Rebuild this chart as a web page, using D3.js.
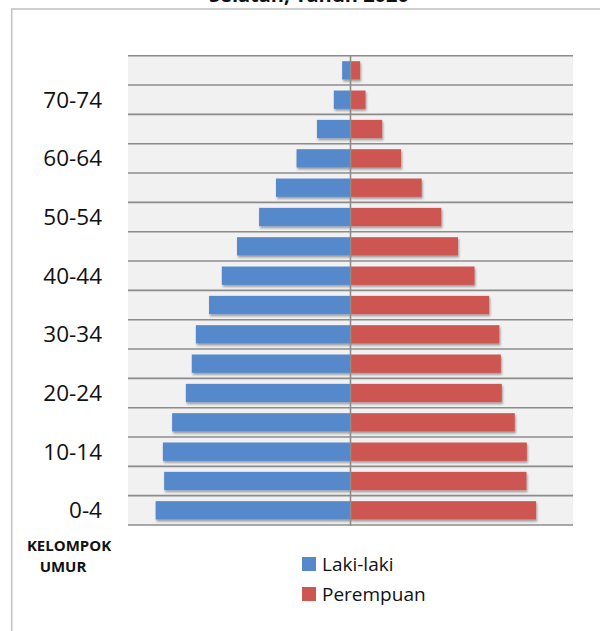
<!DOCTYPE html>
<html lang="en">
<head>
<meta charset="UTF-8" />
<title>Piramida Penduduk</title>
<script src="https://cdnjs.cloudflare.com/ajax/libs/d3/7.8.5/d3.min.js"></script>
<style>
  body { margin: 0; background: #fff; font-family: 'Open Sans', sans-serif; }
  svg { display: block; }
  .tick text { font-size: 22.5px; fill: #111; }
  text.title { font-size: 20px; font-weight: 700; fill: #111; }
  text.ylab { font-size: 15px; font-weight: 700; fill: #111; }
  text.legend { font-size: 19px; fill: #111; }
</style>
</head>
<body>
<svg width="600" height="631"></svg>
<script>
// age groups, bottom to top
const ageGroups = ['0-4','5-9','10-14','15-19','20-24','25-29','30-34','35-39',
                   '40-44','45-49','50-54','55-59','60-64','65-69','70-74','75+'];
const tickLabels = ['0-4','10-14','20-24','30-34','40-44','50-54','60-64','70-74'];
const seriesNames = ['Laki-laki', 'Perempuan'];
// population (same order as ageGroups)
const lakiLaki  = [10510,10050,10120,9620,8880,8560,8340,7630,6940,6120,4930,4020,2910,1810,900,450];
const perempuan = [10010,9490,9510,8860,8160,8110,8030,7480,6690,5800,4900,3840,2730,1710,810,520];
const maxPop = 12000;

const colors = { 'Laki-laki': '#5589cb', 'Perempuan': '#cd5653' };

const svg = d3.select('svg');

// outer frame (runs off the right / bottom of the picture)
svg.append('rect')
  .attr('x', 11.7).attr('y', 9)
  .attr('width', 700).attr('height', 700)
  .attr('fill', 'none')
  .attr('stroke', '#c4c4c4')
  .attr('stroke-width', 1.6);

// title, only the bottom of its second line is inside the picture
svg.append('text')
  .attr('class', 'title')
  .attr('x', 309).attr('y', 1.5)
  .attr('text-anchor', 'middle')
  .text('Selatan, Tahun 2020');

const plotLeft = 128, plotRight = 573, plotTop = 55.7, plotBottom = 525;

const x = d3.scaleLinear().domain([-maxPop, maxPop]).range([plotLeft, plotRight]);
const yRow = d3.scaleBand().domain(ageGroups.slice().reverse()).range([plotTop, plotBottom]);
const yBar = d3.scaleBand().domain(ageGroups.slice().reverse()).range([plotTop, plotBottom])
  .paddingInner(0.375).paddingOuter(0.1875);

const defs = svg.append('defs');
const f = defs.append('filter').attr('id', 'shadow')
  .attr('x', '-10%').attr('y', '-30%').attr('width', '120%').attr('height', '170%');
f.append('feDropShadow')
  .attr('dx', 1).attr('dy', 2).attr('stdDeviation', 1.2)
  .attr('flood-color', '#000').attr('flood-opacity', 0.35);

// plot background
svg.append('rect')
  .attr('x', x(-maxPop)).attr('y', plotTop)
  .attr('width', x(maxPop) - x(-maxPop)).attr('height', plotBottom - plotTop)
  .attr('fill', '#f1f1f1');

// horizontal gridlines at row boundaries
const bounds = ageGroups.map(a => yRow(a)).concat([plotBottom]);
svg.append('g').selectAll('line')
  .data(bounds)
  .enter().append('line')
  .attr('x1', x(-maxPop)).attr('x2', x(maxPop))
  .attr('y1', d => d).attr('y2', d => d)
  .attr('stroke', '#8c8c8c')
  .attr('stroke-width', 1.6);

// bars
const rows = ageGroups.map((a, i) => ({ age: a, laki: lakiLaki[i], perempuan: perempuan[i] }));
const bars = svg.append('g').attr('filter', 'url(#shadow)');
bars.selectAll('rect.laki')
  .data(rows)
  .enter().append('rect')
  .attr('class', 'laki')
  .attr('x', d => x(-d.laki))
  .attr('y', d => yBar(d.age))
  .attr('width', d => x(0) - x(-d.laki))
  .attr('height', yBar.bandwidth())
  .attr('fill', colors['Laki-laki']);
bars.selectAll('rect.per')
  .data(rows)
  .enter().append('rect')
  .attr('class', 'per')
  .attr('x', x(0))
  .attr('y', d => yBar(d.age))
  .attr('width', d => x(d.perempuan) - x(0))
  .attr('height', yBar.bandwidth())
  .attr('fill', colors['Perempuan']);

// centre line
svg.append('line')
  .attr('x1', x(0)).attr('x2', x(0))
  .attr('y1', plotTop).attr('y2', plotBottom + 1)
  .attr('stroke', '#8c8c8c')
  .attr('stroke-width', 1.6);

// y axis labels
const yAxis = svg.append('g')
  .attr('transform', `translate(${plotLeft}, 0)`)
  .call(d3.axisLeft(yRow).tickValues(tickLabels).tickSize(0).tickPadding(26));
yAxis.select('.domain').remove();
yAxis.attr('font-family', null).attr('font-size', null);
yAxis.selectAll('.tick text').attr('dy', '0.36em');

// axis title
const ylab = svg.append('text').attr('class', 'ylab').attr('text-anchor', 'middle');
ylab.append('tspan').attr('x', 69).attr('y', 551).text('KELOMPOK');
ylab.append('tspan').attr('x', 63).attr('y', 572).text('UMUR');

// legend
const legend = svg.append('g').selectAll('g')
  .data(seriesNames)
  .enter().append('g')
  .attr('transform', (d, i) => `translate(302, ${557 + i * 30})`);
legend.append('rect')
  .attr('width', 14).attr('height', 14)
  .attr('fill', d => colors[d]);
legend.append('text')
  .attr('class', 'legend')
  .attr('x', 20).attr('y', 13.5)
  .text(d => d);
</script>
</body>
</html>
